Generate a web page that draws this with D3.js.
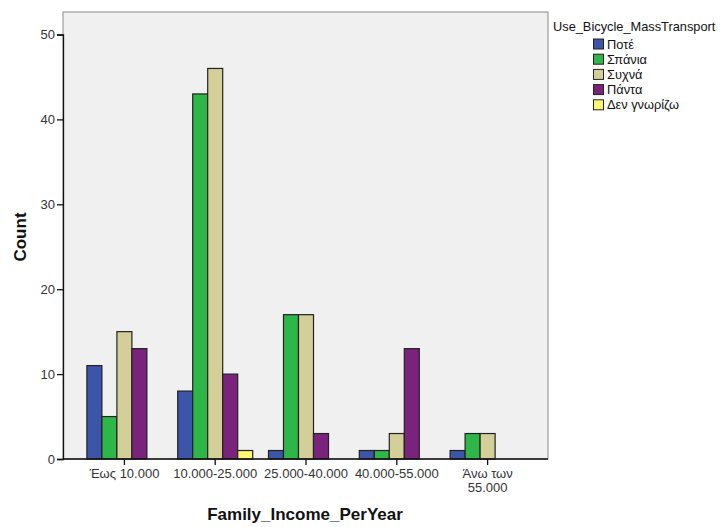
<!DOCTYPE html>
<html><head><meta charset="utf-8">
<script src="https://cdn.jsdelivr.net/npm/d3@7"></script>
<style>body{margin:0;background:#fff;} text{font-family:"Liberation Sans",Arial,sans-serif;}</style>
</head><body><svg id="c" width="722" height="527"></svg>
<script>
const categories = ["Έως 10.000","10.000-25.000","25.000-40.000","40.000-55.000","Άνω των 55.000"];
const seriesNames = ["Ποτέ","Σπάνια","Συχνά","Πάντα","Δεν γνωρίζω"];
const pote    = [11, 8, 1, 1, 1];
const spania  = [5, 43, 17, 1, 3];
const sychna  = [15, 46, 17, 3, 3];
const panta   = [13, 10, 3, 13, 0];
const denGnor = [0, 1, 0, 0, 0];
const yTicks = [0,10,20,30,40,50];
const colors = ["#3d55a8","#2eb648","#d4cf98","#7a237c","#fbf870"];
const seriesValues = [pote, spania, sychna, panta, denGnor];

const svg = d3.select("#c");
const L=63, R=548, T=12, B=459;
const x = d3.scaleBand().domain(categories).range([79,533]).paddingInner(0.174).paddingOuter(0.087);
const x1 = d3.scaleBand().domain(seriesNames).range([0,x.bandwidth()]);
const y = d3.scaleLinear().domain([0,50]).range([B, B-50*8.49]);

svg.append("rect").attr("x",L).attr("y",T).attr("width",R-L).attr("height",B-T)
  .attr("fill","#f0f0f0").attr("stroke","#8a8a8a").attr("stroke-width",1);

const g = svg.append("g");
categories.forEach((c,i)=>{
  seriesNames.forEach((s,j)=>{
    const v = seriesValues[j][i];
    if(v>0){
      g.append("rect").attr("x",x(c)+x1(s)).attr("y",y(v)).attr("width",x1.bandwidth()).attr("height",B-y(v))
       .attr("fill",colors[j]).attr("stroke","#222").attr("stroke-width",1.2);
    }
  });
});

const ya = svg.append("g").attr("transform",`translate(${L},0)`).call(d3.axisLeft(y).tickValues(yTicks).tickSize(6).tickPadding(2).tickFormat(d3.format("d")));
ya.select(".domain").attr("stroke","#111").attr("stroke-width",1.3);
ya.selectAll(".tick line").attr("stroke","#111").attr("stroke-width",1.3);
ya.selectAll("text").attr("font-size","13px").attr("fill","#333").attr("font-family","Liberation Sans, Arial");

const xa = svg.append("g").attr("transform",`translate(0,${B})`).call(d3.axisBottom(x).tickSize(6).tickPadding(4).tickFormat(""));
xa.select(".domain").remove();
svg.append("line").attr("x1",L).attr("x2",R).attr("y1",B).attr("y2",B).attr("stroke","#111").attr("stroke-width",1.3);
xa.selectAll(".tick line").attr("stroke","#111").attr("stroke-width",1.3);
xa.selectAll(".tick").each(function(d){
  const t = d3.select(this).append("text").attr("fill","#333").attr("font-size","13px").attr("text-anchor","middle").attr("y",19)
    .attr("font-family","Liberation Sans, Arial");
  if(d==="Άνω των 55.000"){
    t.append("tspan").attr("x",0).text("Άνω των");
    t.append("tspan").attr("x",0).attr("dy",14).text("55.000");
  } else t.text(d);
});

svg.append("text").attr("transform","translate(26,237) rotate(-90)").attr("text-anchor","middle")
  .attr("font-weight","bold").attr("font-size","17px").attr("fill","#111").text("Count");
svg.append("text").attr("x",305).attr("y",520).attr("text-anchor","middle")
  .attr("font-weight","bold").attr("font-size","17px").attr("fill","#111").text("Family_Income_PerYear");

svg.append("text").attr("x",553).attr("y",31).attr("font-size","12.8px").attr("fill","#111").text("Use_Bicycle_MassTransport");
seriesNames.forEach((s,j)=>{
  const yy = 39 + j*15.2;
  svg.append("rect").attr("x",593.5).attr("y",yy).attr("width",10).attr("height",10)
    .attr("fill",colors[j]).attr("stroke","#222").attr("stroke-width",1);
  svg.append("text").attr("x",607).attr("y",yy+9.5).attr("font-size","12.8px").attr("fill","#111").text(s);
});
</script></body></html>
